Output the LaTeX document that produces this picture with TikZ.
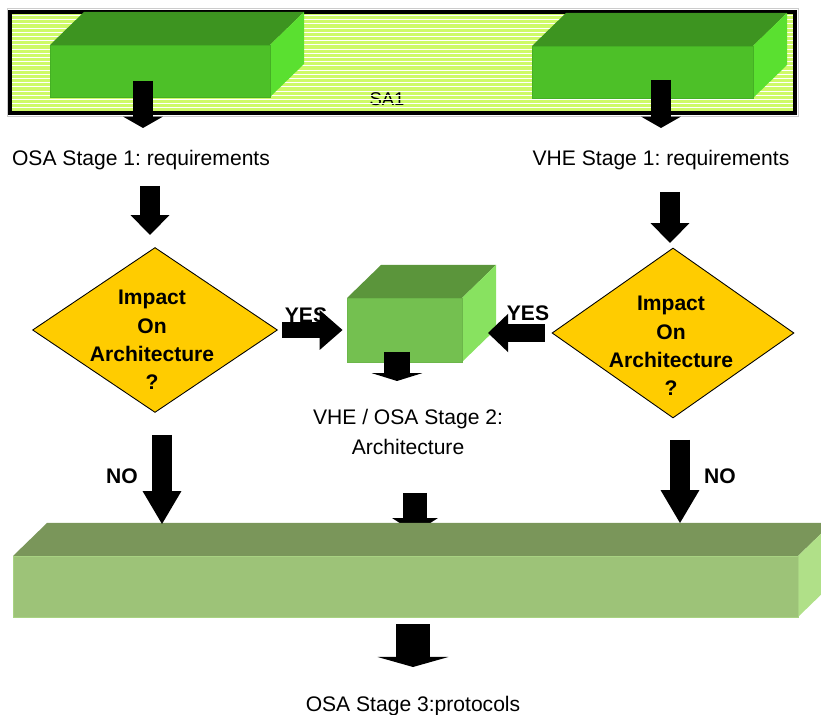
\documentclass[tikz,border=0pt]{standalone}
\usepackage{fontspec}
\setmainfont{Liberation Sans}
\frenchspacing
\usetikzlibrary{positioning,arrows.meta,shapes.geometric}

\definecolor{sabg}{RGB}{206,250,104}
\definecolor{boxtop}{RGB}{61,148,32}
\definecolor{boxfront}{RGB}{77,192,40}
\definecolor{boxside}{RGB}{90,224,48}
\definecolor{boxedge}{RGB}{69,176,36}
\definecolor{archtop}{RGB}{91,149,59}
\definecolor{archfront}{RGB}{116,192,80}
\definecolor{archside}{RGB}{136,226,96}
\definecolor{archedge}{RGB}{108,182,74}
\definecolor{bartop}{RGB}{122,150,90}
\definecolor{barfront}{RGB}{157,195,120}
\definecolor{barside}{RGB}{176,224,136}
\definecolor{baredge}{RGB}{168,210,130}
\definecolor{decision}{RGB}{255,204,0}

% box with top and side faces; #1 name, #2 colour set, (#3,#4)-(#5,#6) front face
\newcommand{\cuboid}[6]{%
  \fill[#2top] (#3,#4) -- (#3+34,#4-33) -- (#5+34,#4-33) -- (#5,#4) -- cycle;
  \fill[#2side] (#5,#4) -- (#5+34,#4-33) -- (#5+34,#6-33) -- (#5,#6) -- cycle;
  \node[inner sep=0pt, fill=#2front, draw=#2edge, line width=0.5pt,
        minimum width={(#5-#3)*0.02cm}, minimum height={(#6-#4)*0.02cm}]
    (#1) at ({(#3+#5)/2},{(#4+#6)/2}) {};
}

\begin{document}
\begin{tikzpicture}[x=0.02cm, y=-0.02cm,
  txt/.style={font=\fontsize{12}{15}\selectfont},
  tag/.style={font=\bfseries\fontsize{12}{15}\selectfont},
  question/.style={align=center, font=\bfseries\fontsize{12}{16.2}\selectfont},
  decisionbox/.style={diamond, draw, line width=0.5pt, fill=decision, inner sep=0pt},
  fat/.style n args={3}{line width=#1, -{Triangle[length=#2,width=#3,line width=0pt]}}]
\useasboundingbox (0,0) rectangle (821,715);
\clip (0,0) rectangle (821,715);

% SA1 band
\draw[gray!40, line width=0.4pt] (7,8) rectangle (798,116);
\fill[sabg] (10,12) rectangle (795,113);
\node[font=\fontsize{10.5}{12}\selectfont] (sa1) at (387,99) {SA1};
\foreach \y in {15.5,19.7,...,111} \draw[white, line width=0.6pt] (10,\y) -- (795,\y);
\draw[line width=2.3pt] (10,12) rectangle (795,113);

\cuboid{osabox}{box}{50}{45}{270}{97}
\cuboid{vhebox}{box}{532}{46}{753}{98}

\coordinate (osaout) at (143,81);
\coordinate (osain) at (143,128);
\coordinate (vheout) at (661,80);
\coordinate (vhein) at (661,128);
\draw[fat={11.3pt}{6.5pt}{22.7pt}] (osaout) -- (osain);
\draw[fat={11.3pt}{6.5pt}{22.7pt}] (vheout) -- (vhein);

\node[txt, anchor=base] (osa1) at (141,166) {OSA Stage 1: requirements};
\node[txt, anchor=base] (vhe1) at (661,166) {VHE Stage 1: requirements};

\node[decisionbox, minimum width=4.9cm, minimum height=3.3cm] (dl) at (155,330) {};
\node[question] (dlq) at (152,340) {Impact\\On\\Architecture\\?};
\node[decisionbox, minimum width=4.84cm, minimum height=3.4cm] (dr) at (673,333) {};
\node[question] (drq) at (671,346) {Impact\\On\\Architecture\\?};

\coordinate (osadown) at (150,186);
\coordinate (dltop) at (150,235);
\coordinate (vhedown) at (670,192);
\coordinate (drtop) at (670,243);
\draw[fat={11.9pt}{11.3pt}{22.1pt}] (osadown) -- (dltop);
\draw[fat={11.9pt}{11.3pt}{22.1pt}] (vhedown) -- (drtop);

\cuboid{arch}{arch}{347}{298}{462}{362}

\coordinate (archside) at (488,333);
\draw[fat={9.6pt}{13pt}{22.7pt}, shorten <=2.5pt, shorten >=2.3pt] (dl.east) -- (arch.west);
\draw[fat={10pt}{11.5pt}{22pt}, shorten <=4pt] (dr.west) -- (archside);
\node[tag] (yesl) at (306,315) {YES};
\node[tag] (yesr) at (528,313) {YES};

\coordinate (archout) at (397,352);
\coordinate (archin) at (397,381);
\draw[fat={14.7pt}{4.5pt}{28.9pt}] (archout) -- (archin);

\node[txt, align=center, font=\fontsize{12}{17}\selectfont] (osa2) at (408,432) {VHE / OSA Stage 2:\\Architecture};

\coordinate (osa2out) at (415,493);
\coordinate (barin) at (415,533);
\draw[fat={14.2pt}{8.5pt}{26pt}] (osa2out) -- (barin);

\cuboid{stage3}{bar}{13}{556}{798}{617}

\coordinate (dlout) at (162,435);
\coordinate (dlno) at (162,524);
\coordinate (drout) at (680,440);
\coordinate (drno) at (680,523);
\draw[fat={11.3pt}{18.7pt}{22.1pt}] (dlout) -- (dlno);
\draw[fat={11.3pt}{18.7pt}{22.1pt}] (drout) -- (drno);
\node[tag] (nol) at (122,476) {NO};
\node[tag] (nor) at (720,476) {NO};

\coordinate (barout) at (413,624);
\coordinate (osa3in) at (413,667);
\draw[fat={19.8pt}{5.7pt}{40.3pt}] (barout) -- (osa3in);
\node[txt, anchor=base] (osa3) at (413,711) {OSA Stage 3:protocols};
\end{tikzpicture}
\end{document}
